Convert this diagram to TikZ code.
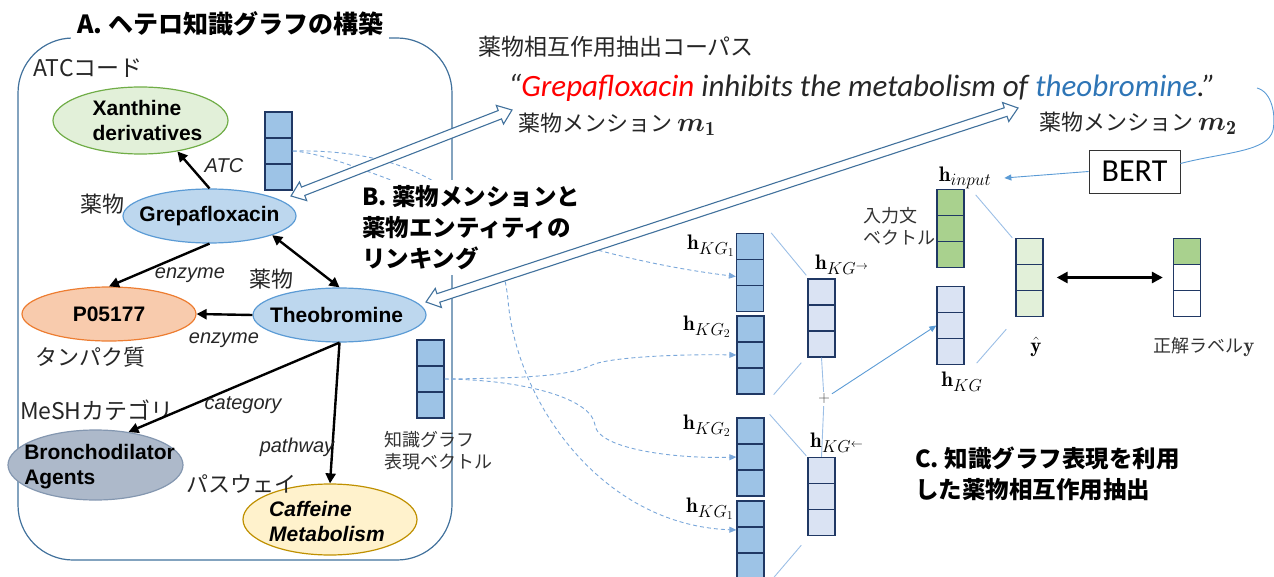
\documentclass[tikz,border=0pt]{standalone}
\usepackage{amsmath}
\usepackage{fontspec}
\usepackage{graphicx}
\usetikzlibrary{shapes.geometric,arrows.meta,calc}
\newfontfamily\jpf{Noto Sans CJK JP}
\newfontfamily\arf{Liberation Sans}
\newfontfamily\cbf{Carlito}
\DeclareMathSizes{21}{21}{16}{13}

\definecolor{panelblue}{HTML}{41719C}
\definecolor{navy}{HTML}{203864}
\definecolor{cellblue}{HTML}{9DC3E6}
\definecolor{paleblue}{HTML}{DAE3F3}
\definecolor{cellgreen}{HTML}{A9D18E}
\definecolor{palegreen}{HTML}{E2F0D9}
\definecolor{greendraw}{HTML}{70AD47}
\definecolor{ellblue}{HTML}{BDD7EE}
\definecolor{ellbluedraw}{HTML}{5B9BD5}
\definecolor{orfill}{HTML}{F8CBAD}
\definecolor{ordraw}{HTML}{ED7D31}
\definecolor{grayfill}{HTML}{ADB9CA}
\definecolor{graydraw}{HTML}{8497B0}
\definecolor{yelfill}{HTML}{FFF2CC}
\definecolor{yeldraw}{HTML}{BF9000}
\definecolor{thinc}{HTML}{5B9BD5}
\definecolor{dashc}{HTML}{7AA7DA}
\definecolor{funnelc}{HTML}{9CBFE6}
\definecolor{sred}{HTML}{FF0000}
\definecolor{sblue}{HTML}{2E75B6}

\newcommand\vcells{%
  \draw[navy,line width=1.3pt]
   ($(path picture bounding box.north west)!1/3!(path picture bounding box.south west)$) --
   ($(path picture bounding box.north east)!1/3!(path picture bounding box.south east)$)
   ($(path picture bounding box.north west)!2/3!(path picture bounding box.south west)$) --
   ($(path picture bounding box.north east)!2/3!(path picture bounding box.south east)$);}

\newcommand\hollowarrow[2]{%
  \coordinate (ha1) at ($(#1)!13pt!(#2)$);
  \coordinate (hb1) at ($(#2)!13pt!(#1)$);
  \draw[hollowstyle] (#1) -- ($(ha1)!10pt!90:(#2)$) -- ($(ha1)!4.5pt!90:(#2)$)
    -- ($(hb1)!4.5pt!-90:(#1)$) -- ($(hb1)!10pt!-90:(#1)$) -- (#2)
    -- ($(hb1)!10pt!90:(#1)$) -- ($(hb1)!4.5pt!90:(#1)$)
    -- ($(ha1)!4.5pt!-90:(#2)$) -- ($(ha1)!10pt!-90:(#2)$) -- cycle;}

\begin{document}
\begin{tikzpicture}[x=1pt,y=-1pt,
  ell/.style={ellipse, line width=1.2pt, inner sep=0pt},
  boldlbl/.style={align=left, font=\fontsize{21}{25}\selectfont\arf\bfseries},
  jplbl/.style={font=\fontsize{22}{26}\selectfont\jpf, text=black!85, inner sep=1pt},
  jpsmall/.style={font=\fontsize{18}{22}\selectfont\jpf, text=black!80, inner sep=1pt, align=left},
  edgelbl/.style={font=\fontsize{20}{24}\selectfont\arf\itshape, text=black!85, inner sep=1pt},
  hlbl/.style={font=\fontsize{21}{24}\selectfont, inner sep=1pt},
  vecbox/.style={rectangle, draw=navy, line width=1.3pt, minimum width=27pt, minimum height=78pt, inner sep=0pt, fill=#1, path picture={\vcells}},
  vectop/.style={rectangle, draw=navy, line width=1.3pt, minimum width=27pt, minimum height=78pt, inner sep=0pt, fill=white,
     path picture={\fill[cellgreen] (path picture bounding box.north west) rectangle ($(path picture bounding box.north east)!1/3!(path picture bounding box.south east)$); \vcells}},
  kgarrow/.style={line width=2.4pt, -{Triangle[length=10pt,width=10pt]}},
  kgboth/.style={line width=2.4pt, {Triangle[length=10pt,width=10pt]}-{Triangle[length=10pt,width=10pt]}},
  dashline/.style={draw=dashc, line width=0.9pt, dash pattern=on 4pt off 3pt, -{Triangle[length=7pt,width=6pt]}},
  thinarrow/.style={draw=thinc, line width=0.9pt, -{Triangle[length=7pt,width=6pt]}},
  thinline/.style={draw=thinc, line width=0.9pt},
  funnel/.style={draw=funnelc, line width=0.9pt},
  hollowstyle/.style={draw=panelblue, fill=white, line width=1.1pt, line join=miter},
  bigtitle/.style={font=\jpf\bfseries\fontsize{23.5}{31}\selectfont, align=left, fill=white, inner sep=5pt},
  mlbl/.style={font=\fontsize{22}{26}\selectfont\jpf, text=black!85, inner sep=1pt}
]
\useasboundingbox (0,0) rectangle (1274,577);

% ---------- Panel A ----------
\draw[panelblue, line width=1.2pt, rounded corners=55pt] (18,38) rectangle (452,560);
\node[fill=white, inner sep=6pt, font=\jpf\bfseries\fontsize{25}{28}\selectfont] (titleA) at (230,24) {A. ヘテロ知識グラフの構築};

\node[jplbl, font=\fontsize{23}{26}\selectfont\jpf] (latc) at (88,68) {ATCコード};

\node[ell, draw=greendraw, fill=palegreen, minimum width=175pt, minimum height=67pt,
  label={[boldlbl, xshift=7pt]center:{Xanthine\\derivatives}}] (xan) at (140.5,120.5) {};
\node[ell, draw=ellbluedraw, fill=ellblue, minimum width=173pt, minimum height=54pt,
  label={[boldlbl]center:Grepafloxacin}] (grepa) at (209.5,216) {};
\node[ell, draw=ordraw, fill=orfill, minimum width=174pt, minimum height=54pt,
  label={[boldlbl]center:P05177}] (p05) at (109,314) {};
\node[ell, draw=ellbluedraw, fill=ellblue, minimum width=173pt, minimum height=54pt,
  label={[boldlbl, xshift=-3pt]center:Theobromine}] (theo) at (339.5,315) {};
\node[ell, draw=graydraw, fill=grayfill, minimum width=175pt, minimum height=70pt,
  label={[boldlbl, xshift=4pt, yshift=-2pt]center:{Bronchodilator\\Agents}}] (bron) at (95.5,465) {};
\node[ell, draw=yeldraw, fill=yelfill, minimum width=174pt, minimum height=71pt,
  label={[boldlbl, font=\fontsize{21}{25}\selectfont\arf\bfseries\itshape, xshift=-3pt, yshift=-2pt]center:{Caffeine\\Metabolism}}] (caff) at (330,519.5) {};

\node[jplbl] (lyaku1) at (102,204) {薬物};
\node[jplbl] (lprot) at (90,357) {タンパク質};
\node[jplbl, font=\fontsize{23}{26}\selectfont\jpf] (lmesh) at (97,410) {MeSHカテゴリ};
\node[jplbl] (lpath) at (241,484) {パスウェイ};

\draw[kgarrow] (grepa.north) -- (xan.-40);
\draw[kgarrow] (grepa.south) -- (p05.north);
\draw[kgboth] (grepa.-17) -- (theo.north);
\draw[kgarrow] (theo.west) -- (p05.east);
\draw[kgarrow] (theo.south) -- (bron.45);
\draw[kgarrow] (theo.south) -- (caff.north);

\node[edgelbl] (eatc) at (224,166) {ATC};
\node[edgelbl] (eenz1) at (190,275) {enzyme};
\node[jplbl] (lyaku2) at (271,279) {薬物};
\node[edgelbl] (eenz2) at (224,340) {enzyme};
\node[edgelbl] (ecat) at (243,405) {category};
\node[edgelbl] (epath) at (297,447) {pathway};

% vectors in panel A
\node[vecbox=cellblue] (upvec) at (278.5,151) {};
\node[vecbox=cellblue] (lowvec) at (430.5,379) {};
\node[jpsmall, anchor=west] (lkgvec) at (383,451) {知識グラフ\\表現ベクトル};

% ---------- Section C vectors ----------
\node[vecbox=cellblue] (KG1a) at (750,272.5) {};
\node[vecbox=cellblue] (KG2a) at (750.5,355) {};
\node[vecbox=cellblue] (KG2b) at (750.5,457) {};
\node[vecbox=cellblue] (KG1b) at (750.5,540) {};
\node[vecbox=paleblue] (fwd) at (821.5,318) {};
\node[vecbox=paleblue] (bwd) at (821.5,496.5) {};
\node[vecbox=cellgreen] (hin) at (950.5,228.5) {};
\node[vecbox=paleblue] (hkg) at (950.5,325.5) {};
\node[vecbox=palegreen] (yhat) at (1029.5,277.5) {};
\node[vectop] (ylab) at (1187,277.5) {};

% dashed curves
\draw[dashline] (upvec.east) .. controls (360,155) and (520,250) .. ([yshift=-4pt]KG1a.west);
\draw[dashline] (upvec.east) .. controls (440,148) and (500,220) .. (508,300) .. controls (516,400) and (600,525) .. ([yshift=10pt]KG1b.west);
\draw[dashline] (lowvec.east) .. controls (540,378) and (570,375) .. (592,365) .. controls (610,357) and (680,354) .. (KG2a.west);
\draw[dashline] (lowvec.east) .. controls (530,380) and (592,400) .. (595,425) .. controls (598,450) and (680,459) .. (KG2b.west);

% ---------- Title B ----------
\node[bigtitle, anchor=north west] (titleB) at (357,180) {B. 薬物メンションと\\薬物エンティティの\\リンキング};

% ---------- corpus sentence ----------
\node[font=\fontsize{23}{26}\selectfont\jpf, text=black!85, inner sep=1pt] (lcorpus) at (616,47) {薬物相互作用抽出コーパス};
\node[font=\fontsize{31}{36}\selectfont\cbf\itshape, text=black!85, inner sep=1pt] (sent) at (862,88)
  {“\textcolor{sred}{Grepafloxacin} inhibits the metabolism of \textcolor{sblue}{theobromine}.”};
\node[mlbl] (lm1) at (617,124) {薬物メンション \scalebox{1.3}{$\boldsymbol{m}_{\mathbf{1}}$}};
\node[mlbl] (lm2) at (1138,123) {薬物メンション \scalebox{1.3}{$\boldsymbol{m}_{\mathbf{2}}$}};

% hollow linking arrows
\coordinate (m1tip) at (512,110);
\coordinate (grepatip) at (291,196);
\coordinate (m2tip) at (1018,108);
\coordinate (theotip) at (426,302);
\hollowarrow{m1tip}{grepatip}
\hollowarrow{m2tip}{theotip}

% ---------- Section C labels ----------
\node[hlbl] (lkg1a) at (711,246) {$\mathbf{h}_{KG_1}$};
\node[hlbl] (lkg2a) at (707,327) {$\mathbf{h}_{KG_2}$};
\node[hlbl] (lkg2b) at (707,426) {$\mathbf{h}_{KG_2}$};
\node[hlbl] (lkg1b) at (710,509) {$\mathbf{h}_{KG_1}$};
\node[hlbl] (lfwd) at (842,265) {$\mathbf{h}_{KG^{\rightarrow}}$};
\node[hlbl] (lbwd) at (837,443) {$\mathbf{h}_{KG^{\leftarrow}}$};
\node[font=\fontsize{16}{18}\selectfont, text=black!75, inner sep=2pt] (plus) at (824,399) {+};
\node[hlbl] (hinlbl) at (965,178) {$\mathbf{h}_{input}$};
\node[jpsmall, anchor=west] (linput) at (862,226) {入力文\\ベクトル};
\node[hlbl] (lhkg) at (962,382) {$\mathbf{h}_{KG}$};
\node[hlbl] (lyhat) at (1036,347) {$\hat{\mathbf{y}}$};
\node[jpsmall, font=\fontsize{18}{22}\selectfont\jpf] (lgold) at (1204,347) {正解ラベル{\fontsize{21}{24}\selectfont$\mathbf{y}$}};

\node[draw=black!80, line width=0.9pt, minimum width=91pt, minimum height=43pt, inner sep=0pt,
  font=\fontsize{32}{34}\selectfont\cbf] (bert) at (1134.5,171.5) {BERT};

% funnel lines
\draw[funnel] ([xshift=7pt]KG1a.north east) -- ([xshift=-1pt,yshift=3pt]fwd.north west);
\draw[funnel] ([xshift=9pt]KG2a.south east) -- ([xshift=-6pt,yshift=-5pt]fwd.south west);
\draw[funnel] ([xshift=5pt,yshift=3pt]KG2b.north east) -- ([xshift=-1pt,yshift=1pt]bwd.north west);
\draw[funnel] ([xshift=9pt,yshift=2pt]KG1b.south east) -- ([xshift=-6pt,yshift=-9pt]bwd.south west);
\draw[funnel] ([xshift=11pt,yshift=-6pt]hin.north east) -- ([xshift=-3pt]yhat.north west);
\draw[funnel] ([xshift=12pt,yshift=2pt]hkg.south east) -- ([xshift=-9pt,yshift=-12pt]yhat.south west);
\draw[funnel] (fwd.south) -- (plus);
\draw[funnel] (plus) -- (bwd.north);
\draw[thinarrow] (plus) -- (hkg.west);

\draw[thinarrow] (bert.west) -- ([xshift=12pt]hinlbl.east);
\coordinate (sentend) at (1257,88);
\draw[thinline] (sentend) .. controls (1272,92) and (1276,115) .. (1273,130) .. controls (1268,152) and (1225,152) .. ([yshift=8pt]bert.east);

\draw[line width=2.8pt, {Triangle[length=11pt,width=11pt]}-{Triangle[length=11pt,width=11pt]}]
  ([xshift=13pt]yhat.east) -- ([xshift=-10pt]ylab.west);

% ---------- Title C ----------
\node[bigtitle, anchor=north west] (titleC) at (910,442) {C. 知識グラフ表現を利用\\した薬物相互作用抽出};

\end{tikzpicture}
\end{document}
